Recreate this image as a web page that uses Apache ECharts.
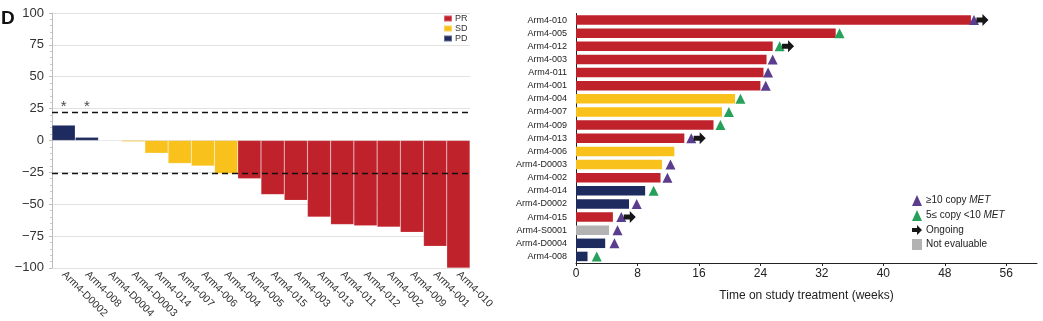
<!DOCTYPE html>
<html>
<head>
<meta charset="utf-8">
<script src="https://cdn.jsdelivr.net/npm/echarts@6/dist/echarts.min.js"></script>
<style>
  html, body { margin: 0; padding: 0; background: #fff; }
  #chart { width: 1043px; height: 321px; }
</style>
</head>
<body>
<div id="chart"></div>
<script>
// ---- Waterfall: best change in tumour size per patient ----
const wfCategories = ['Arm4-D0002', 'Arm4-008', 'Arm4-D0004', 'Arm4-D0003', 'Arm4-014', 'Arm4-007',
  'Arm4-006', 'Arm4-004', 'Arm4-005', 'Arm4-015', 'Arm4-003', 'Arm4-013', 'Arm4-011', 'Arm4-012',
  'Arm4-002', 'Arm4-009', 'Arm4-001', 'Arm4-010'];
const wfChange = [12, 2.5, 0, -1, -10, -18, -20, -26, -30, -42.5, -47, -60, -66, -67, -68, -72, -83, -100];
const wfResponse = ['PD', 'PD', 'PD', 'SD', 'SD', 'SD', 'SD', 'SD', 'PR', 'PR', 'PR', 'PR', 'PR', 'PR',
  'PR', 'PR', 'PR', 'PR'];
const wfFlagged = ['Arm4-D0002', 'Arm4-008'];
const wfThresholds = [22.5, -25.5];
const wfYTicks = { min: -100, max: 100, step: 25 };

// ---- Swimmer: time on study treatment (weeks) ----
const swPatients = ['Arm4-010', 'Arm4-005', 'Arm4-012', 'Arm4-003', 'Arm4-011', 'Arm4-001', 'Arm4-004',
  'Arm4-007', 'Arm4-009', 'Arm4-013', 'Arm4-006', 'Arm4-D0003', 'Arm4-002', 'Arm4-014', 'Arm4-D0002',
  'Arm4-015', 'Arm4-S0001', 'Arm4-D0004', 'Arm4-008'];
const swWeeks = [51.4, 33.8, 25.6, 24.8, 24.4, 24.0, 20.7, 19.0, 17.9, 14.1, 12.8, 11.2, 11.0, 9.0, 6.9,
  4.8, 4.3, 3.8, 1.5];
const swResponse = ['PR', 'PR', 'PR', 'PR', 'PR', 'PR', 'SD', 'SD', 'PR', 'PR', 'SD', 'SD', 'PR', 'PD',
  'PD', 'PR', 'NE', 'PD', 'PD'];
const swMetHigh = [51.8, '-', '-', 25.6, 25.0, 24.7, '-', '-', '-', 15.0, '-', 12.3, 11.9, '-', 7.9, 5.9,
  5.4, 5.0, '-'];
const swMetMid = ['-', 34.3, 26.5, '-', '-', '-', 21.4, 19.9, 18.8, '-', '-', '-', '-', 10.1, '-', '-',
  '-', '-', 2.7];
const swOngoing = [52.9, '-', 27.6, '-', '-', '-', '-', '-', '-', 16.1, '-', '-', '-', '-', '-', 7.0,
  '-', '-', '-'];
const swXTicks = [0, 8, 16, 24, 32, 40, 48, 56];

const COLORS = { PR: '#c0222b', SD: '#f8c11c', PD: '#1e2b5e', NE: '#b3b3b3' };
const RESPONSE_NAMES = { PR: 'PR', SD: 'SD', PD: 'PD', NE: 'Not evaluable' };
const FONT = '"Liberation Sans", Arial, Helvetica, sans-serif';
const ARROW = 'path://M0,3.5 L6,3.5 L6,0 L12,6 L6,12 L6,8.5 L0,8.5 Z';

const byResponse = (values, responses, key) =>
  values.map((v, i) => (responses[i] === key ? v : '-'));

const waterfallSeries = ['PR', 'SD', 'PD'].map(key => ({
  name: RESPONSE_NAMES[key],
  type: 'bar',
  xAxisIndex: 0,
  yAxisIndex: 0,
  stack: 'wf',
  barCategoryGap: '0%',
  itemStyle: { color: COLORS[key], borderColor: 'rgba(255,255,255,0.3)', borderWidth: 0.5 },
  data: byResponse(wfChange, wfResponse, key),
  z: 2
}));

const swimmerSeries = ['PR', 'SD', 'PD', 'NE'].map(key => ({
  name: RESPONSE_NAMES[key],
  type: 'bar',
  xAxisIndex: 1,
  yAxisIndex: 1,
  stack: 'sw',
  barWidth: 9.5,
  itemStyle: { color: COLORS[key] },
  data: byResponse(swWeeks, swResponse, key)
}));

const markerSeries = (name, values, symbol, size, color) => ({
  name,
  type: 'scatter',
  xAxisIndex: 1,
  yAxisIndex: 1,
  symbol,
  symbolSize: size,
  itemStyle: { color, opacity: 1 },
  data: swPatients.map((p, i) => [values[i], p]),
  z: 4
});

const option = {
  animation: false,
  textStyle: { fontFamily: FONT },
  graphic: [{
    type: 'text', left: 1, top: 9,
    style: { text: 'D', font: 'bold 19px ' + FONT, fill: '#111' }
  }],
  legend: [{
    data: ['PR', 'SD', 'PD'],
    orient: 'vertical',
    left: 443, top: 14,
    padding: 0,
    itemWidth: 8, itemHeight: 6, itemGap: 1,
    icon: 'rect',
    textStyle: { fontSize: 9, lineHeight: 8, color: '#333', padding: [0, 0, 0, -2] }
  }, {
    data: [
      { name: '≥10 copy MET' },
      { name: '5≤ copy <10 MET' },
      { name: 'Ongoing' },
      { name: 'Not evaluable', icon: 'rect' }
    ],
    orient: 'vertical',
    left: 912, top: 195,
    padding: 0,
    itemWidth: 10, itemHeight: 11, itemGap: 4,
    formatter: n => n.replace('MET', '{i|MET}'),
    textStyle: {
      fontSize: 10, color: '#222', padding: [0, 0, 0, -1],
      rich: { i: { fontStyle: 'italic', fontSize: 10, color: '#222' } }
    }
  }],
  grid: [
    { left: 52, top: 13, width: 418, height: 256 },
    { left: 576, top: 13.5, right: 6, bottom: 58 }
  ],
  xAxis: [{
    gridIndex: 0,
    type: 'category',
    data: wfCategories,
    axisLine: { show: false },
    axisTick: { show: false },
    axisLabel: { rotate: -45, fontSize: 10.5, color: '#333', margin: 5, interval: 0 }
  }, {
    gridIndex: 1,
    type: 'value',
    min: 0, max: 60,
    axisLine: { show: true, lineStyle: { color: '#222', width: 1 } },
    axisTick: { show: true, length: 3, customValues: swXTicks, lineStyle: { color: '#222' } },
    axisLabel: { customValues: swXTicks, fontSize: 12, color: '#222', margin: 5 },
    splitLine: { show: false },
    name: 'Time on study treatment (weeks)',
    nameLocation: 'middle',
    nameGap: 27,
    nameTextStyle: { fontSize: 12, color: '#222' }
  }],
  yAxis: [{
    gridIndex: 0,
    type: 'value',
    min: wfYTicks.min, max: wfYTicks.max, interval: wfYTicks.step,
    axisLine: { show: true, lineStyle: { color: '#bdbdbd' } },
    axisTick: { show: true, length: 3, lineStyle: { color: '#bdbdbd' } },
    minorTick: { show: true, splitNumber: 5, length: 2, lineStyle: { color: '#c8c8c8' } },
    axisLabel: {
      fontSize: 13, color: '#333', margin: 8,
      formatter: v => String(v).replace('-', '\u2212')
    },
    splitLine: { show: true, lineStyle: { color: '#e2e2e2', width: 1 } }
  }, {
    gridIndex: 1,
    type: 'category',
    data: swPatients,
    inverse: true,
    axisLine: { show: true, lineStyle: { color: '#222', width: 1 } },
    axisTick: { show: false },
    axisLabel: { fontSize: 9, color: '#222', margin: 9 }
  }],
  series: [
    ...waterfallSeries,
    {
      type: 'line',
      xAxisIndex: 0, yAxisIndex: 0,
      data: [],
      markLine: {
        silent: true,
        symbol: 'none',
        label: { show: false },
        lineStyle: { color: '#111', type: [6, 4], width: 1.3 },
        data: wfThresholds.map(t => ({ yAxis: t }))
      },
      z: 5
    },
    {
      type: 'scatter',
      xAxisIndex: 0, yAxisIndex: 0,
      symbolSize: 0,
      data: wfFlagged.map(c => [c, 26]),
      label: { show: true, position: 'inside', formatter: '*', fontSize: 15, color: '#111' }
    },
    ...swimmerSeries,
    markerSeries('≥10 copy MET', swMetHigh, 'triangle', [10, 10], '#5a3d8d'),
    markerSeries('5≤ copy <10 MET', swMetMid, 'triangle', [10, 10], '#26a05a'),
    markerSeries('Ongoing', swOngoing, ARROW, [12, 12], '#161616')
  ]
};

const chart = echarts.init(document.getElementById('chart'), null, { renderer: 'canvas' });
chart.setOption(option);
</script>
</body>
</html>
